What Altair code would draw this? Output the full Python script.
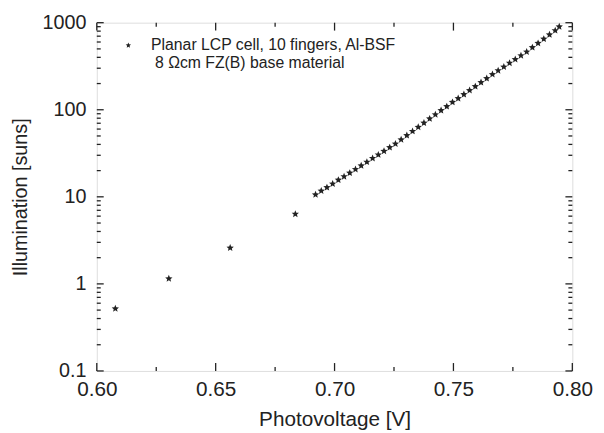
import altair as alt
import pandas as pd

# ---- data ----
volt_sparse = [0.6078, 0.6303, 0.6561, 0.6835]
illum_sparse = [0.52, 1.15, 2.59, 6.34]

volt_dense = [0.6920, 0.6944, 0.6968, 0.6992, 0.7016, 0.7040, 0.7064, 0.7088,
              0.7112, 0.7136, 0.7160, 0.7184, 0.7208, 0.7232, 0.7256, 0.7280,
              0.7304, 0.7328, 0.7352, 0.7376, 0.7400, 0.7424, 0.7448, 0.7472,
              0.7496, 0.7520, 0.7544, 0.7568, 0.7592, 0.7616, 0.7640, 0.7664,
              0.7688, 0.7712, 0.7736, 0.7760, 0.7784, 0.7808, 0.7832, 0.7856,
              0.7880, 0.7904, 0.7928, 0.7945]
illum_dense = [10.6, 11.7, 12.8, 14.1, 15.6, 17.1, 18.8, 20.7,
               22.8, 25.1, 27.7, 30.4, 33.5, 36.9, 40.6, 45.4,
               50.7, 56.6, 63.2, 70.6, 78.8, 88.0, 98.2, 109,
               122, 135, 150, 167, 185, 206, 229, 255,
               282, 311, 344, 379, 419, 463, 519, 581,
               650, 728, 813, 900]

x_major = [0.60, 0.65, 0.70, 0.75, 0.80]
x_minor = [0.625, 0.675, 0.725, 0.775]
y_major = [0.1, 1, 10, 100, 1000]
y_minor = [0.2, 0.3, 0.4, 0.5, 0.6, 0.7, 0.8, 0.9,
           2, 3, 4, 5, 6, 7, 8, 9,
           20, 30, 40, 50, 60, 70, 80, 90,
           200, 300, 400, 500, 600, 700, 800, 900]

legend_line1 = "Planar LCP cell, 10 fingers, Al-BSF"
legend_line2 = "8 \u03a9cm FZ(B) base material"
x_title = "Photovoltage [V]"
y_title = "Illumination [suns]"

W, H = 482, 353
FONT = "Liberation Sans"
INK = "#222222"
STAR = ("M0,-1L0.2645,-0.3641L0.9511,-0.309L0.428,0.1391L0.5878,0.809"
        "L0,0.45L-0.5878,0.809L-0.428,0.1391L-0.9511,-0.309L-0.2645,-0.3641Z")

pts = pd.DataFrame({"v": volt_sparse + volt_dense, "i": illum_sparse + illum_dense})

xscale = alt.Scale(domain=[0.6, 0.8], nice=False, zero=False)
yscale = alt.Scale(type="log", domain=[0.1, 1000], nice=False)

points = alt.Chart(pts).mark_point(shape=STAR, filled=True, size=60, color=INK, opacity=1).encode(
    x=alt.X("v:Q", scale=xscale, title=x_title,
            axis=alt.Axis(values=x_major, format=".2f", tickSize=0, domain=False, grid=False,
                          labelFontSize=21, titleFontSize=21, labelPadding=8, titlePadding=9,
                          labelFont=FONT, titleFont=FONT, labelColor=INK, titleColor=INK,
                          titleFontWeight="normal", labelFlush=False)),
    y=alt.Y("i:Q", scale=yscale, title=y_title,
            axis=alt.Axis(values=y_major, format="~g", tickSize=0, domain=False, grid=False,
                          labelFontSize=20, titleFontSize=20, labelPadding=11, titlePadding=12,
                          labelFont=FONT, titleFont=FONT, labelColor=INK, titleColor=INK,
                          titleFontWeight="normal", labelFlush=False)),
)

def xticks(vals, length):
    df = pd.DataFrame({"v": vals})
    bottom = alt.Chart(df).mark_rule(color=INK, strokeWidth=1.3).encode(
        x=alt.X("v:Q", scale=xscale), y=alt.value(H), y2=alt.value(H - length))
    top = alt.Chart(df).mark_rule(color=INK, strokeWidth=1.3).encode(
        x=alt.X("v:Q", scale=xscale), y=alt.value(0), y2=alt.value(length))
    return [bottom, top]

def yticks(vals, length):
    df = pd.DataFrame({"i": vals})
    left = alt.Chart(df).mark_rule(color=INK, strokeWidth=1.3).encode(
        y=alt.Y("i:Q", scale=yscale), x=alt.value(0), x2=alt.value(length))
    right = alt.Chart(df).mark_rule(color=INK, strokeWidth=1.3).encode(
        y=alt.Y("i:Q", scale=yscale), x=alt.value(W), x2=alt.value(W - length))
    return [left, right]

ticks = xticks(x_major, 8) + xticks(x_minor, 4) + yticks(y_major, 7) + yticks(y_minor, 4)

leg_df = pd.DataFrame({"t": [legend_line1]})
leg_star = alt.Chart(leg_df).mark_point(shape=STAR, filled=True, size=32, color=INK, opacity=1).encode(
    x=alt.value(32), y=alt.value(23))
leg_t1 = alt.Chart(leg_df).mark_text(align="left", baseline="middle", font=FONT, fontSize=16, color=INK).encode(
    x=alt.value(55), y=alt.value(23), text=alt.value(legend_line1))
leg_t2 = alt.Chart(leg_df).mark_text(align="left", baseline="middle", font=FONT, fontSize=16, color=INK).encode(
    x=alt.value(59), y=alt.value(41), text=alt.value(legend_line2))

chart = alt.layer(points, *ticks, leg_star, leg_t1, leg_t2).properties(
    width=W, height=H,
    autosize=alt.AutoSizeParams(type="none"),
    padding={"left": 90, "top": 12, "right": 24, "bottom": 60},
).configure_view(stroke=INK, strokeWidth=1.5).configure(background="white")

chart.save("out.html", embed_options={"renderer": "svg", "actions": False})
